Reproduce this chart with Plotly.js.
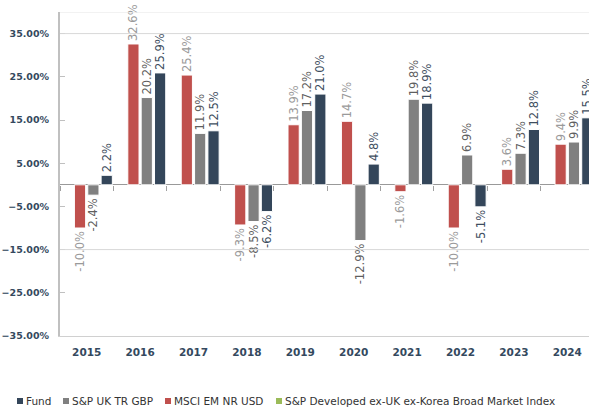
<!DOCTYPE html>
<html>
<head>
<meta charset="utf-8">
<script src="https://cdn.plot.ly/plotly-3.0.1.min.js"></script>
<style>
html,body{margin:0;padding:0;background:#fff;overflow:hidden;}
#chart{width:594px;height:408px;}
</style>
</head>
<body>
<div id="chart"></div>
<script>
// ---- data ----
const years = ['2015','2016','2017','2018','2019','2020','2021','2022','2023','2024'];
const seriesNames = ['S&P Developed ex-UK ex-Korea Broad Market Index','MSCI EM NR USD','S&P UK TR GBP','Fund'];
const spDeveloped = [null,null,null,null,null,null,null,null,null,null];
const msciEM = [-10.0, 32.6, 25.4, -9.3, 13.9, 14.7, -1.6, -10.0, 3.6, 9.4];
const spUK   = [-2.4, 20.2, 11.9, -8.5, 17.2, -12.9, 19.8, 6.9, 7.3, 9.9];
const fund   = [2.2, 25.9, 12.5, -6.2, 21.0, 4.8, 18.9, -5.1, 12.8, 15.5];
const legendOrder = ['Fund','S&P UK TR GBP','MSCI EM NR USD','S&P Developed ex-UK ex-Korea Broad Market Index'];

// ---- styles ----
const colors = {
  'S&P Developed ex-UK ex-Korea Broad Market Index':'#9bbb59',
  'MSCI EM NR USD':'#c0504d',
  'S&P UK TR GBP':'#808080',
  'Fund':'#34465a'
};
const labelColors = {
  'S&P Developed ex-UK ex-Korea Broad Market Index':'#999999',
  'MSCI EM NR USD':'#9a9a9a',
  'S&P UK TR GBP':'#5f5f5f',
  'Fund':'#3e4e60'
};
const values = [spDeveloped, msciEM, spUK, fund];
const fmt = v => (v === null ? '' : v.toFixed(1) + '%');

const traces = seriesNames.map((name, i) => ({
  type:'bar', name:name, x:years, y:values[i],
  marker:{color:colors[name], line:{color:'#ffffff', width:1}},
  text:values[i].map(fmt), textposition:'outside', textangle:-90,
  textfont:{family:'DejaVu Sans', size:11.5, color:labelColors[name]},
  cliponaxis:false, constraintext:'none', hoverinfo:'x+y', showlegend:false
}));
// empty helper trace to carry the tick axis drawn on the zero line
traces.push({type:'scatter', x:[], y:[], xaxis:'x2', yaxis:'y', showlegend:false, hoverinfo:'skip'});

const yMin = -35, yMax = 40;
const boundaries = years.map((_, i) => i - 0.5).concat([years.length - 0.5]);

// legend built as annotations + small squares
const legendX = [17, 63, 165, 276];
const legendY = 401;
const shapes = [
  {type:'line', xref:'paper', yref:'y', x0:0, x1:1, y0:40, y1:40, line:{color:'#e6e6e6', width:1}},
  {type:'line', xref:'paper', yref:'y', x0:0, x1:1, y0:35, y1:35, line:{color:'#d8d8d8', width:1}},
  {type:'line', xref:'paper', yref:'y', x0:0, x1:1, y0:-15, y1:-15, line:{color:'#d8d8d8', width:1}}
];
const annotations = [];
const W = 594, H = 408, mL = 60, mR = 0, mT = 12, mB = 72;
const pw = W - mL - mR, ph = H - mT - mB;
const toPX = px => (px - mL) / pw;
const toPY = py => (H - mB - py) / ph;
legendOrder.forEach((name, i) => {
  const x0 = legendX[i];
  shapes.push({type:'rect', xref:'paper', yref:'paper',
    x0:toPX(x0), x1:toPX(x0+6), y0:toPY(legendY+3), y1:toPY(legendY-3),
    fillcolor:colors[name], line:{width:0}});
  annotations.push({xref:'paper', yref:'paper', x:toPX(x0+7), y:toPY(legendY),
    xanchor:'left', yanchor:'middle', showarrow:false, text:name,
    font:{family:'DejaVu Sans', size:10.5, color:'#333333'}});
});

const layout = {
  width:W, height:H,
  margin:{l:mL, r:mR, t:mT, b:mB},
  paper_bgcolor:'#ffffff', plot_bgcolor:'#ffffff',
  barmode:'group', bargap:0, bargroupgap:0.16,
  showlegend:false,
  xaxis:{type:'category', showgrid:false, zeroline:false, showline:true,
    linecolor:'#d0d0d0', linewidth:1, ticks:'', ticklabelstandoff:6,
    tickfont:{family:'DejaVu Sans', size:10.5, color:'#34495e', weight:'bold'}},
  xaxis2:{overlaying:'x', anchor:'free', position:(0 - yMin)/(yMax - yMin),
    range:[-0.5, years.length - 0.5], tickvals:boundaries, ticks:'outside',
    ticklen:5, tickcolor:'#a0a0a0', showticklabels:false, showgrid:false,
    zeroline:false, showline:false},
  yaxis:{range:[yMin, yMax], tick0:-35, dtick:10, tickformat:'.2f', ticksuffix:'%',
    showgrid:false, zeroline:true, zerolinecolor:'#999999', zerolinewidth:1,
    showline:true, linecolor:'#c0c0c0', linewidth:2, ticks:'inside', ticklen:5,
    tickcolor:'#c0c0c0', ticklabelstandoff:7,
    tickfont:{family:'DejaVu Sans', size:9.5, color:'#34495e', weight:'bold'}},
  shapes:shapes, annotations:annotations
};

Plotly.newPlot('chart', traces, layout, {displayModeBar:false, staticPlot:true});
</script>
</body>
</html>
